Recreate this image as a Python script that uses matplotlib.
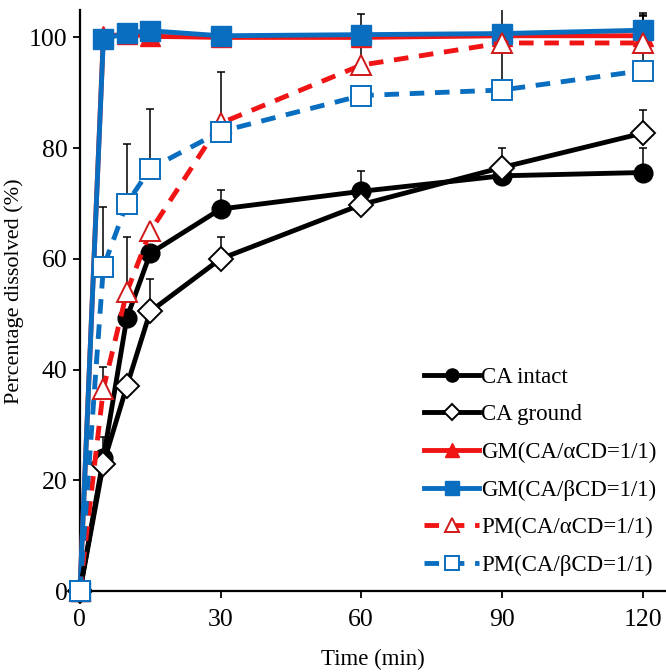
import matplotlib
matplotlib.use("Agg")
import matplotlib.pyplot as plt
import numpy as np

plt.rcParams['font.family'] = ['Liberation Serif', 'DejaVu Serif']

time = [0, 5, 10, 15, 30, 60, 90, 120]

ca_intact = [0, 24.0, 49.3, 61.0, 69.0, 72.2, 75.0, 75.6]
ca_intact_err = [0, 3.8, 0, 0, 3.4, 3.6, 0, 4.4]

ca_ground = [0, 23.0, 37.0, 50.5, 60.0, 69.8, 76.5, 82.7]
ca_ground_err = [0, 0, 0, 5.8, 3.9, 0, 3.5, 4.1]

gm_alpha = [0, 100.2, 100.6, 100.2, 100.0, 100.0, 100.3, 100.3]
gm_alpha_err = [0, 0, 0, 0, 0, 0, 0, 0]

gm_beta = [0, 99.7, 100.8, 101.2, 100.3, 100.5, 100.7, 101.3]
gm_beta_err = [0, 0, 0, 0, 0, 0, 0, 3.2]

pm_alpha = [0, 36.5, 54.0, 65.0, 84.5, 95.0, 99.0, 99.0]
pm_alpha_err = [0, 3.9, 10.0, 0, 9.2, 9.2, 0, 4.8]

pm_beta = [0, 58.5, 70.0, 76.3, 83.0, 89.5, 90.5, 94.0]
pm_beta_err = [0, 10.8, 10.8, 10.7, 0, 0, 16.0, 10.0]

labels = ["CA intact", "CA ground", "GM(CA/\u03b1CD=1/1)", "GM(CA/\u03b2CD=1/1)",
          "PM(CA/\u03b1CD=1/1)", "PM(CA/\u03b2CD=1/1)"]

RED = '#F01414'
BLUE = '#0A6EC0'
DASH = (0, (3, 2.2))

series = [
    (ca_intact, ca_intact_err, dict(color='black', ls='-', marker='o', ms=13.5, mfc='black', mec='black')),
    (ca_ground, ca_ground_err, dict(color='black', ls='-', marker='D', ms=12, mfc='white', mec='black', mew=1.4)),
    (gm_alpha, gm_alpha_err, dict(color=RED, ls='-', marker='^', ms=15, mfc=RED, mec=RED)),
    (gm_beta, gm_beta_err, dict(color=BLUE, ls='-', marker='s', ms=14.5, mfc=BLUE, mec=BLUE)),
    (pm_alpha, pm_alpha_err, dict(color=RED, ls=DASH, marker='^', ms=15, mfc='white', mec='#D01818', mew=1.4)),
    (pm_beta, pm_beta_err, dict(color=BLUE, ls=DASH, marker='s', ms=15, mfc='white', mec=BLUE, mew=1.4)),
]

fig = plt.figure(figsize=(6.66, 6.72), dpi=100)
ax = fig.add_axes([0.12, 0.1205, 0.88, 0.865])

for i, (vals, err, st) in enumerate(series):
    lower = [0] * len(err)
    ax.errorbar(time, vals, yerr=[lower, err], fmt='none', ecolor='black',
                elinewidth=1.1, capsize=3.2, capthick=1.1, zorder=2)

order = [2, 3, 0, 1, 4, 5]
handles = {}
for i in order:
    vals, err, st = series[i]
    h, = ax.plot(time, vals, lw=3.5, label=labels[i], zorder=3 + order.index(i),
                 clip_on=False, **st)
    handles[i] = h

ax.set_xlim(0, 125)
ax.set_ylim(0, 105)
ax.set_xticks([0, 30, 60, 90, 120])
ax.set_yticks([0, 20, 40, 60, 80, 100])
ax.tick_params(direction='out', length=5, width=1.3, labelsize=18.5)
ax.tick_params(axis='x', pad=8)
ax.tick_params(axis='y', pad=4)
for s in ['top', 'right']:
    ax.spines[s].set_visible(False)
for s in ['left', 'bottom']:
    ax.spines[s].set_linewidth(1.6)

ax.set_xlabel('Time (min)', fontsize=16.5)
ax.set_ylabel('Percentage dissolved (%)', fontsize=16)
ax.xaxis.set_label_coords(0.5, -0.1)
ax.yaxis.set_label_coords(-0.095, 0.515)

leg = ax.legend([handles[i] for i in range(6)], labels, loc='lower right',
                frameon=False, fontsize=16.5, handlelength=2.4, handletextpad=0.1,
                labelspacing=0.72, borderaxespad=0.0, markerscale=0.7,
                bbox_to_anchor=(1.0, 0.01))

fig.savefig('out.png', dpi=100)
